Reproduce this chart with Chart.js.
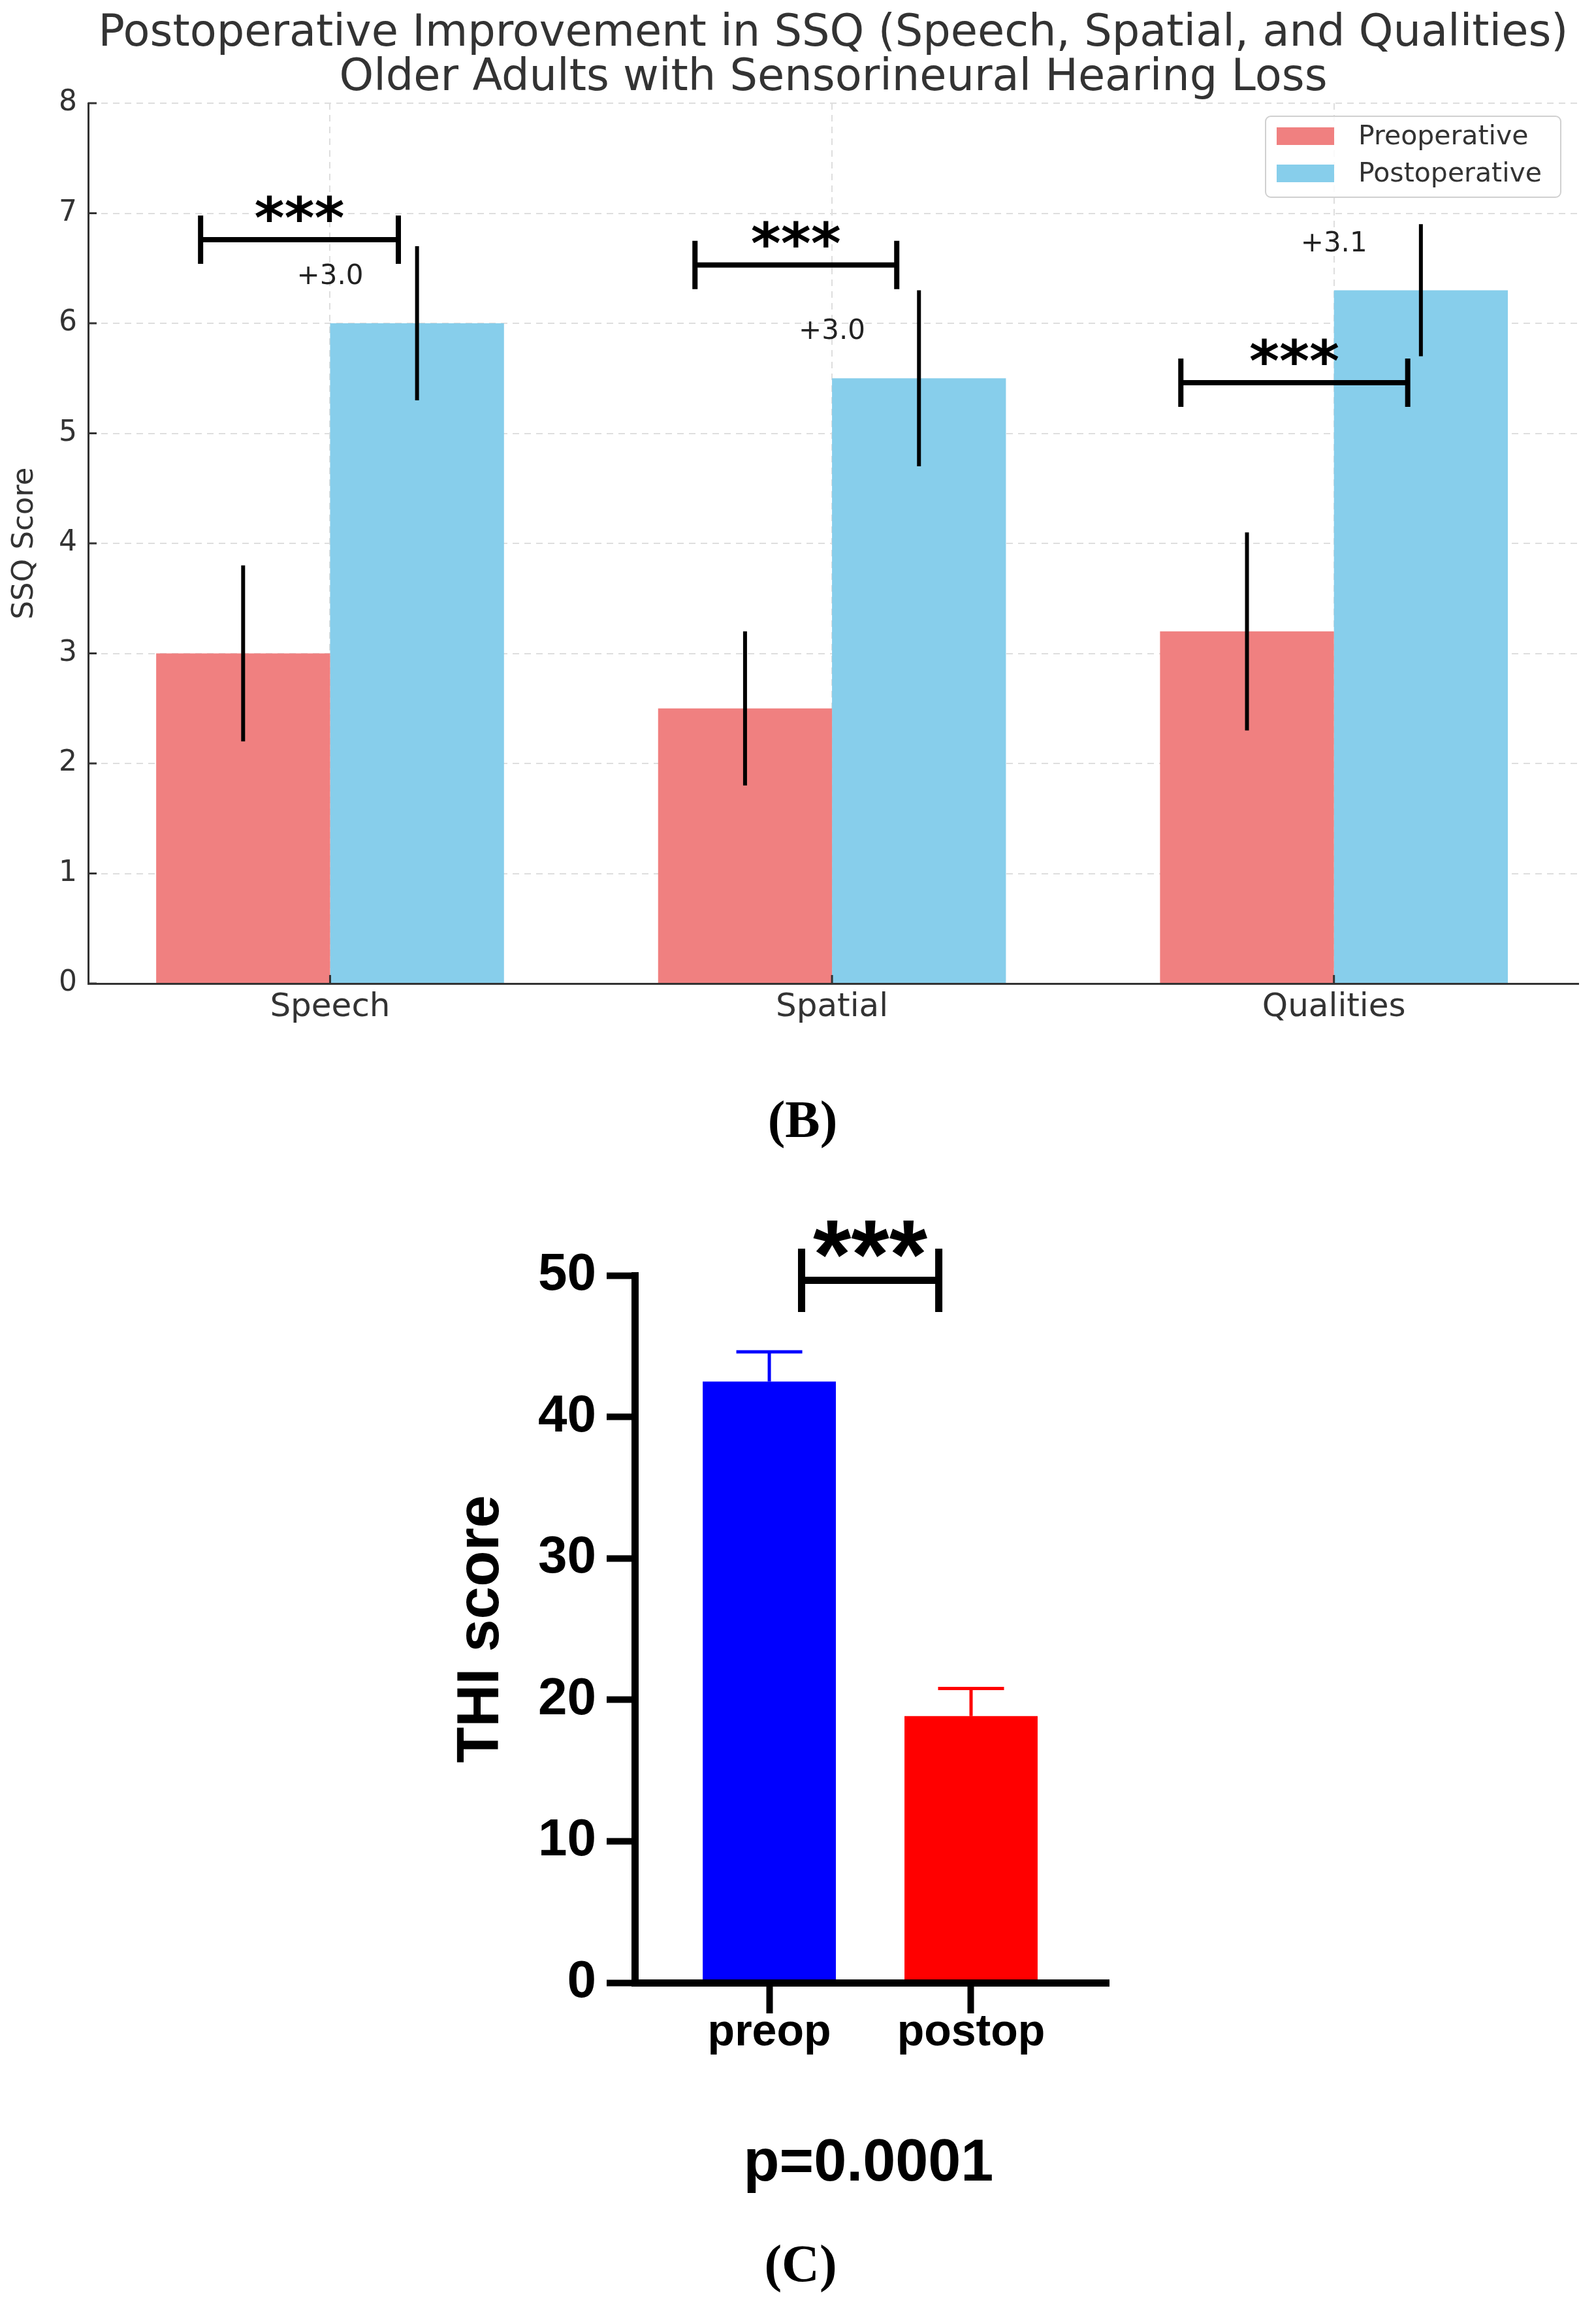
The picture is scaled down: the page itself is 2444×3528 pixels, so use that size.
<!DOCTYPE html>
<html lang="en">
<head>
<meta charset="UTF-8">
<title>SSQ and THI - pre vs post</title>
<script src="https://cdn.jsdelivr.net/npm/chart.js"></script>
<style>
    body {
        margin: 0;
        background: #fff;
        width: 2444px;
        height: 3528px;
        position: relative;
        overflow: hidden;
    }
    .panel {
        position: absolute;
        left: 0;
        width: 2444px;
    }
    #ssqBox { top: 0; height: 1610px; }
    #thiBox { top: 1800px; height: 1400px; }
    .note {
        position: absolute;
        transform: translate(-50%, -50%);
        white-space: nowrap;
        line-height: 1;
        color: #000;
    }
    .tag {
        font-family: "Liberation Serif", "Times New Roman", serif;
        font-weight: bold;
        font-size: 80px;
    }
    #pValue {
        font-family: "Liberation Sans", Arial, sans-serif;
        font-weight: bold;
        font-size: 90px;
    }
</style>
</head>
<body>

<!-- panel B -->
<div class="panel" id="ssqBox"><canvas id="ssqChart"></canvas></div>
<div class="note tag" style="left:1229px; top:1714px;">(B)</div>

<!-- panel C -->
<div class="panel" id="thiBox"><canvas id="thiChart"></canvas></div>
<div class="note" id="pValue" style="left:1330px; top:3308px;">p=0.0001</div>
<div class="note tag" style="left:1226px; top:3466px;">(C)</div>

<script>
// ---- panel B: SSQ scores ----
const ssqCategories = ['Speech', 'Spatial', 'Qualities'];
const ssqPre = [3.0, 2.5, 3.2];
const ssqPost = [6.0, 5.5, 6.3];
const ssqPreSD = [0.8, 0.7, 0.9];
const ssqPostSD = [0.7, 0.8, 0.6];
const ssqGain = ['+3.0', '+3.0', '+3.1'];
// significance brackets (y level, ends relative to the category centre)
const ssqBracketY = [6.76, 6.53, 5.46];
const ssqBracketFrom = [-0.258, -0.273, -0.305];
const ssqBracketTo = [0.136, 0.129, 0.147];

// ---- panel C: THI scores ----
const thiGroups = ['preop', 'postop'];
const thiMean = [42.5, 18.85];
const thiSEM = [2.1, 1.95];
const thiColors = ['#0000FF', '#FF0000'];
const thiBracketX = [0.16, 0.84];
const thiBracketY = 49.65;

const inkTop = '#333';

function drawStars(ctx, x, yPix, size, family) {
    ctx.save();
    ctx.fillStyle = '#000';
    ctx.font = 'bold ' + size + 'px ' + family;
    ctx.textAlign = 'center';
    ctx.textBaseline = 'alphabetic';
    // asterisk ink sits ~0.56em above the baseline
    ctx.fillText('***', x, yPix + 0.56 * size);
    ctx.restore();
}

function drawBracket(ctx, x1, x2, y, half, width) {
    ctx.save();
    ctx.strokeStyle = '#000';
    ctx.lineWidth = width;
    ctx.lineCap = 'butt';
    ctx.beginPath();
    ctx.moveTo(x1, y); ctx.lineTo(x2, y);
    ctx.moveTo(x1, y - half); ctx.lineTo(x1, y + half);
    ctx.moveTo(x2, y - half); ctx.lineTo(x2, y + half);
    ctx.stroke();
    ctx.restore();
}

const ssqExtras = {
    id: 'ssqExtras',
    afterDatasetsDraw(chart) {
        const {ctx, chartArea, scales: {x, y}} = chart;

        // inward tick marks, like the matplotlib axes
        ctx.save();
        ctx.strokeStyle = inkTop;
        ctx.lineWidth = 3;
        ctx.beginPath();
        y.ticks.forEach(t => {
            const py = y.getPixelForValue(t.value);
            ctx.moveTo(chartArea.left, py); ctx.lineTo(chartArea.left + 13, py);
        });
        x.ticks.forEach(t => {
            const px = x.getPixelForValue(t.value);
            ctx.moveTo(px, chartArea.bottom); ctx.lineTo(px, chartArea.bottom - 13);
        });
        ctx.stroke();
        ctx.restore();

        // error bars (no caps)
        ctx.save();
        ctx.strokeStyle = '#000';
        ctx.lineWidth = 6;
        chart.data.datasets.forEach((ds, d) => {
            chart.getDatasetMeta(d).data.forEach((bar, i) => {
                const v = ds.data[i].y, e = ds.errors[i];
                ctx.beginPath();
                ctx.moveTo(bar.x, y.getPixelForValue(v - e));
                ctx.lineTo(bar.x, y.getPixelForValue(v + e));
                ctx.stroke();
            });
        });
        ctx.restore();

        // gain labels above the postoperative bars
        ctx.save();
        ctx.fillStyle = '#222';
        ctx.font = '42px "DejaVu Sans"';
        ctx.textAlign = 'center';
        ctx.textBaseline = 'middle';
        ssqGain.forEach((g, i) => {
            ctx.fillText(g, x.getPixelForValue(i), y.getPixelForValue(ssqPost[i] + 0.42));
        });
        ctx.restore();

        // significance brackets
        ssqCategories.forEach((c, i) => {
            const x1 = x.getPixelForValue(i + ssqBracketFrom[i]);
            const x2 = x.getPixelForValue(i + ssqBracketTo[i]);
            const py = y.getPixelForValue(ssqBracketY[i]);
            const half = y.getPixelForValue(0) - y.getPixelForValue(0.22);
            drawBracket(ctx, x1, x2, py, half, 8);
            drawStars(ctx, (x1 + x2) / 2, y.getPixelForValue(ssqBracketY[i] + 0.31), 88, '"DejaVu Sans"');
        });

        // legend box, top right inside the axes
        const bx = chartArea.right - 479, by = chartArea.top + 20, bw = 452, bh = 124;
        ctx.save();
        ctx.fillStyle = 'rgba(255,255,255,0.85)';
        ctx.strokeStyle = '#d0d0d0';
        ctx.lineWidth = 2;
        ctx.beginPath();
        ctx.roundRect(bx, by, bw, bh, 8);
        ctx.fill();
        ctx.stroke();
        ctx.font = '41px "DejaVu Sans"';
        ctx.textBaseline = 'middle';
        ctx.textAlign = 'left';
        chart.data.datasets.forEach((ds, d) => {
            const cy = by + 30.5 + d * 57;
            ctx.fillStyle = ds.backgroundColor;
            ctx.fillRect(bx + 17, cy - 13.5, 88, 27);
            ctx.fillStyle = inkTop;
            ctx.fillText(ds.label, bx + 142, cy + 2);
        });
        ctx.restore();
    }
};

new Chart(document.getElementById('ssqChart'), {
    type: 'bar',
    data: {
        datasets: [{
            label: 'Preoperative',
            data: ssqPre.map((v, i) => ({x: i, y: v})),
            errors: ssqPreSD,
            backgroundColor: '#F08080',
            categoryPercentage: 0.693,
            barPercentage: 1.0
        }, {
            label: 'Postoperative',
            data: ssqPost.map((v, i) => ({x: i, y: v})),
            errors: ssqPostSD,
            backgroundColor: '#87CEEB',
            categoryPercentage: 0.693,
            barPercentage: 1.0
        }]
    },
    options: {
        responsive: true,
        maintainAspectRatio: false,
        animation: false,
        layout: { padding: { left: 0, right: 27, top: 0, bottom: 0 } },
        plugins: {
            legend: { display: false },
            tooltip: { enabled: false },
            title: {
                display: true,
                fullSize: false,
                text: ['Postoperative Improvement in SSQ (Speech, Spatial, and Qualities)',
                       'Older Adults with Sensorineural Hearing Loss'],
                color: inkTop,
                font: { family: 'DejaVu Sans', size: 67, weight: 'normal', lineHeight: 1.015 },
                padding: { top: 19, bottom: 3 }
            }
        },
        scales: {
            x: {
                type: 'linear',
                offset: false,
                min: -0.482,
                max: 2.487,
                afterFit: s => { s.height = 104; },
                ticks: {
                    stepSize: 1,
                    includeBounds: false,
                    callback: v => ssqCategories[v],
                    color: inkTop,
                    font: { family: 'DejaVu Sans', size: 50, lineHeight: 1.2 },
                    padding: 7,
                    maxRotation: 0
                },
                grid: { offset: false, color: '#dedede', lineWidth: 2, drawTicks: false },
                border: { color: inkTop, width: 3, dash: [10, 8], z: 1 }
            },
            y: {
                min: 0,
                max: 8,
                afterFit: s => { s.width = 135; },
                ticks: {
                    stepSize: 1,
                    color: inkTop,
                    font: { family: 'DejaVu Sans', size: 44 },
                    padding: 17
                },
                grid: { color: '#dedede', lineWidth: 2, drawTicks: false },
                border: { color: inkTop, width: 3, dash: [10, 8], z: 1 },
                title: {
                    display: true,
                    text: 'SSQ Score',
                    color: inkTop,
                    font: { family: 'DejaVu Sans', size: 45, lineHeight: 1.2 },
                    padding: { top: 11, bottom: 0 }
                }
            }
        }
    },
    plugins: [ssqExtras]
});

// ---- panel C chart ----
const thiExtras = {
    id: 'thiExtras',
    afterDatasetsDraw(chart) {
        const {ctx, scales: {x, y}} = chart;
        const meta = chart.getDatasetMeta(0);

        // SEM whiskers, upward only
        ctx.save();
        ctx.lineWidth = 5;
        meta.data.forEach((bar, i) => {
            const top = y.getPixelForValue(thiMean[i] + thiSEM[i]);
            ctx.strokeStyle = thiColors[i];
            ctx.beginPath();
            ctx.moveTo(bar.x, y.getPixelForValue(thiMean[i]));
            ctx.lineTo(bar.x, top);
            ctx.moveTo(bar.x - 50.5, top);
            ctx.lineTo(bar.x + 50.5, top);
            ctx.stroke();
        });
        ctx.restore();

        const x1 = x.getPixelForValue(thiBracketX[0]);
        const x2 = x.getPixelForValue(thiBracketX[1]);
        const half = y.getPixelForValue(0) - y.getPixelForValue(2.24);
        drawBracket(ctx, x1, x2, y.getPixelForValue(thiBracketY), half, 11);
        drawStars(ctx, (x1 + x2) / 2, y.getPixelForValue(thiBracketY + 3.3), 150, '"Liberation Sans", Arial');
    }
};

new Chart(document.getElementById('thiChart'), {
    type: 'bar',
    data: {
        datasets: [{
            label: 'THI score',
            data: thiMean.map((v, i) => ({x: i, y: v})),
            backgroundColor: thiColors,
            categoryPercentage: 0.66,
            barPercentage: 1.0
        }]
    },
    options: {
        responsive: true,
        maintainAspectRatio: false,
        animation: false,
        layout: { padding: { left: 600, right: 746, top: 153, bottom: 0 } },
        plugins: {
            legend: { display: false },
            tooltip: { enabled: false }
        },
        scales: {
            x: {
                type: 'linear',
                offset: false,
                min: -0.667,
                max: 1.683,
                afterFit: s => { s.height = 164; },
                ticks: {
                    stepSize: 1,
                    includeBounds: false,
                    callback: v => thiGroups[v],
                    color: '#000',
                    font: { family: 'Liberation Sans', size: 68, weight: 'bold', lineHeight: 0.7 },
                    padding: 6,
                    maxRotation: 0
                },
                grid: { offset: false, drawOnChartArea: false, drawTicks: true, tickLength: 47, tickWidth: 10, tickColor: '#000' },
                border: { color: '#000', width: 11, z: 1 }
            },
            y: {
                min: 0,
                max: 50,
                afterFit: s => { s.width = 372; },
                ticks: {
                    stepSize: 10,
                    color: '#000',
                    font: { family: 'Liberation Sans', size: 80, weight: 'bold' },
                    padding: 16
                },
                grid: { drawOnChartArea: false, drawTicks: true, tickLength: 43, tickWidth: 10, tickColor: '#000' },
                border: { color: '#000', width: 11, z: 1 },
                title: {
                    display: true,
                    text: 'THI score',
                    color: '#000',
                    font: { family: 'Liberation Sans', size: 90, weight: 'bold', lineHeight: 1.2 },
                    padding: { top: 84, bottom: 0 }
                }
            }
        }
    },
    plugins: [thiExtras]
});
</script>
</body>
</html>
